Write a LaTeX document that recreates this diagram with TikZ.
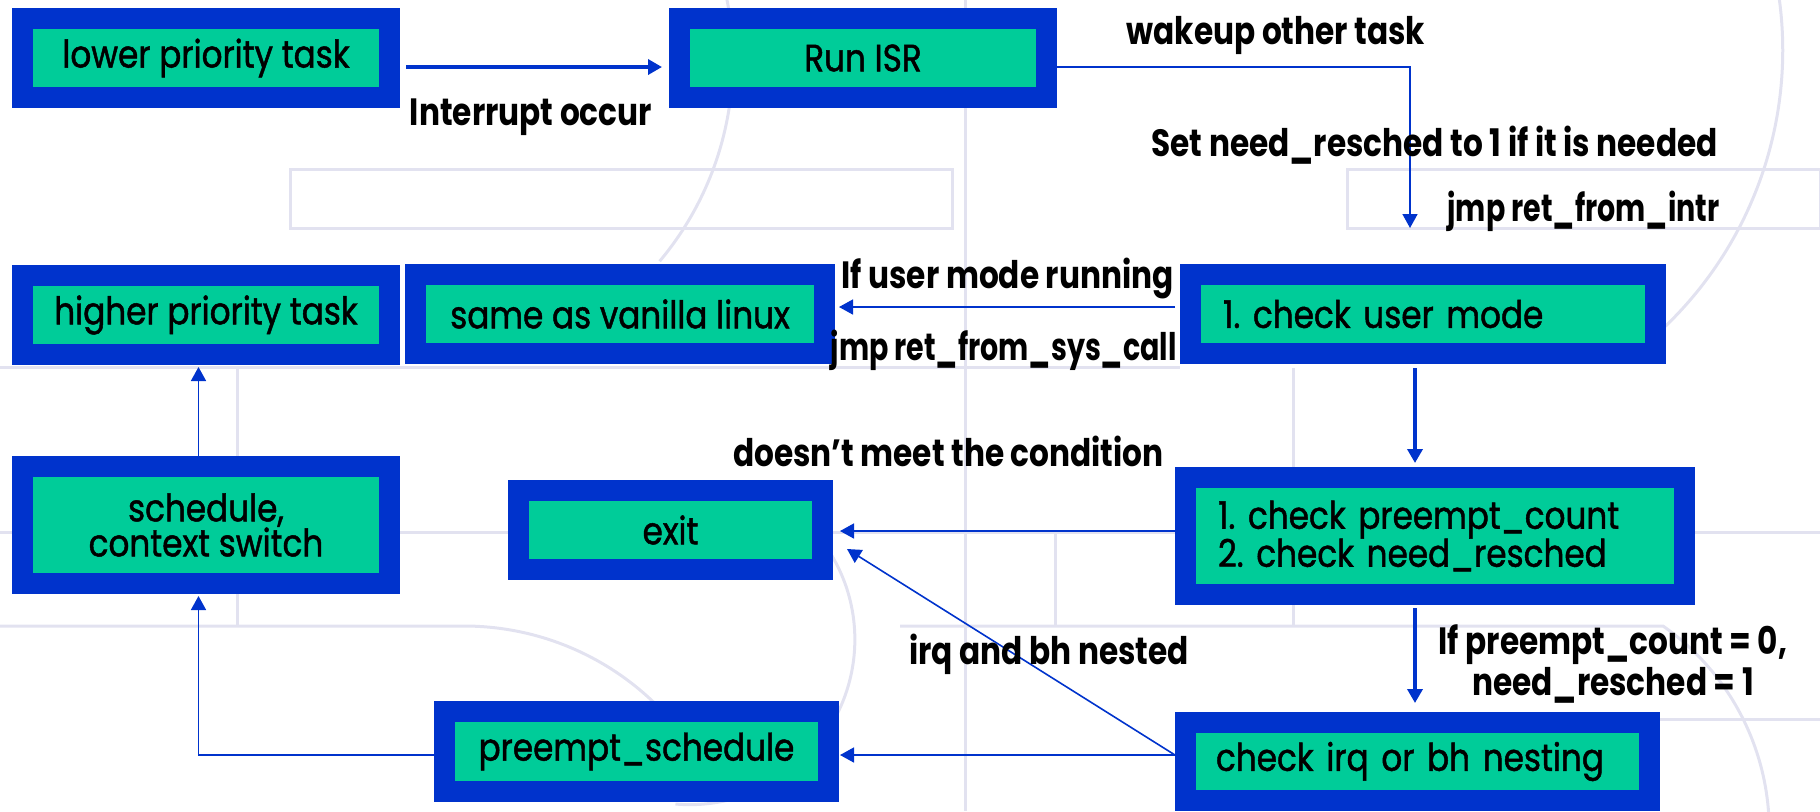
\documentclass[tikz,border=0pt]{standalone}
\usepackage{fontspec}
\setmainfont{Poppins}[FakeStretch=0.86, FakeBold=1.2]
\newfontfamily\notefont{Poppins}[FakeStretch=0.82]
\newfontfamily\jmpfont{Poppins}[FakeStretch=0.75]
\usetikzlibrary{arrows.meta}

\definecolor{boxblue}{RGB}{0,51,204}
\definecolor{boxgreen}{RGB}{0,204,153}
\definecolor{bgline}{RGB}{226,226,240}

\tikzset{
  taskbox/.style={draw=boxblue, fill=boxgreen, line width=10.5pt, inner sep=0pt,
    align=center, font=\fontsize{19}{19}\selectfont\frenchspacing},
  note/.style={inner sep=0pt, anchor=base, font=\fontsize{19}{19}\selectfont\notefont\bfseries},
  jmpnote/.style={note, font=\fontsize{19}{19}\selectfont\jmpfont\bfseries},
  flow/.style={->, boxblue, line width=0.8pt},
  bigflow/.style={->, boxblue, line width=1.8pt},
  bg/.style={draw=bgline, line width=1.5pt}
}

\begin{document}
\begin{tikzpicture}[>={Triangle[length=7pt,width=7.5pt]}, x=0.5pt, y=-0.5pt]
    \useasboundingbox (0,0) rectangle (1820,811);

    % Background lines
    \draw[bg] (290,169) rectangle (952,228);
    \draw[bg] (1347,169) rectangle (1820,228);
    \draw[bg] (0,367) -- (1180,367);
    \draw[bg] (237,367) -- (237,626);
    \draw[bg] (0,532) -- (1820,532);
    \draw[bg] (0,626) -- (464,626) arc[start angle=-90, end angle=-40, radius=274];
    \draw[bg] (900,626) -- (1663,626) arc[start angle=-55, end angle=0, radius=249];
    \draw[bg] (1660,719) -- (1820,719);
    \draw[bg] (965,0) -- (965,811);
    \draw[bg] (1055,533) -- (1055,626);
    \draw[bg] (1293,368) -- (1293,626);
    \draw[bg] (1779,-3) arc[start angle=-8, end angle=50, radius=383];
    \draw[bg] (726,-5) arc[start angle=-12, end angle=40, radius=313];
    \draw[bg] (825,545) arc[start angle=-35, end angle=95, radius=165];

    % Boxes
    \node[taskbox, minimum width=183.5pt, minimum height=39.5pt] (lowtask) at (206,58) {lower priority task};
    \node[taskbox, minimum width=183.5pt, minimum height=39.5pt] (isr) at (863,58) {Run ISR};
    \node[taskbox, minimum width=183.5pt, minimum height=39.5pt] (hightask) at (206,315) {higher priority task};
    \node[taskbox, minimum width=204.5pt, minimum height=39.5pt] (vanilla) at (620,314) {same as vanilla linux};
    \node[taskbox, minimum width=232.5pt, minimum height=39.5pt, text width=200pt, align=left] (usermode) at (1423,314) {1. check user mode};
    \node[taskbox, minimum width=249.5pt, minimum height=58.5pt, text width=217pt, align=left] (preempt) at (1435,536) {1. check preempt\_count\\2. check need\_resched};
    \node[taskbox, minimum width=152pt, minimum height=39.5pt] (exitbox) at (670.5,530) {exit};
    \node[taskbox, minimum width=183.5pt, minimum height=58.5pt, font=\fontsize{19}{17.5}\selectfont] (schedule) at (206,525) {schedule,\\context switch};
    \node[taskbox, minimum width=192pt, minimum height=40pt] (psched) at (636.5,751.5) {preempt\_schedule};
    \node[taskbox, minimum width=232pt, minimum height=39pt, text width=201.5pt, align=left] (irqcheck) at (1417.5,761.5) {check irq or bh nesting};

    % Connectors
    \coordinate (intr) at (1410,228);
    \draw[bigflow, shorten <=3pt, shorten >=3.5pt] ([yshift=-4.5pt]lowtask.east) -- ([yshift=-4.5pt]isr.west);
    \draw[flow] ([yshift=-4.5pt]isr.east) -| (intr);
    \draw[flow, shorten <=2.5pt, shorten >=2pt] ([yshift=3.5pt]usermode.west) -- ([yshift=3.5pt]usermode.west -| vanilla.east);
    \draw[bigflow, shorten <=2pt, shorten >=2pt] ([xshift=-4pt]usermode.south) -- ([xshift=-4pt]usermode.south |- preempt.north);
    \draw[flow, shorten >=3.5pt] ([yshift=2.5pt]preempt.west) -- ([yshift=2.5pt]preempt.west -| exitbox.east);
    \draw[bigflow, shorten <=1.5pt, shorten >=4.5pt] ([xshift=-10pt]preempt.south) -- ([xshift=-10pt]preempt.south |- irqcheck.north);
    \draw[flow, shorten >=0.5pt] ([yshift=3.25pt]irqcheck.west) -- ([yshift=3.25pt]irqcheck.west -| psched.east);
    \draw[flow] ([yshift=3.25pt]irqcheck.west) -- ([xshift=7pt,yshift=-9.5pt]exitbox.east);
    \draw[flow, shorten >=1pt] ([yshift=-1.75pt]psched.west) -| ([xshift=-3.75pt]schedule.south);
    \draw[flow, shorten >=1pt] ([xshift=-3.75pt]schedule.north) -- ([xshift=-3.75pt]hightask.south);

    % Labels
    \node[note] (intocc) at (531,125) {Interrupt occur};
    \node[note] (wakeup) at (1276,44) {wakeup other task};
    \node[note] (setres) at (1434.5,156) {Set need\_resched to 1 if it is needed};
    \node[jmpnote] (jmpintr) at (1583.5,221) {jmp ret\_from\_intr};
    \node[note, anchor=base east] (usrrun) at (1174,288) {If user mode running};
    \node[jmpnote, anchor=base east] (jmpsys) at (1177,360) {jmp ret\_from\_sys\_call};
    \node[note, anchor=base east] (nocond) at (1164,466) {doesn’t meet the condition};
    \node[note] (nested) at (1049,664) {irq and bh nested};
    \node[note, align=center, anchor=center] (cond) at (1613,664) {If preempt\_count = 0,\\need\_resched = 1};
\end{tikzpicture}
\end{document}
